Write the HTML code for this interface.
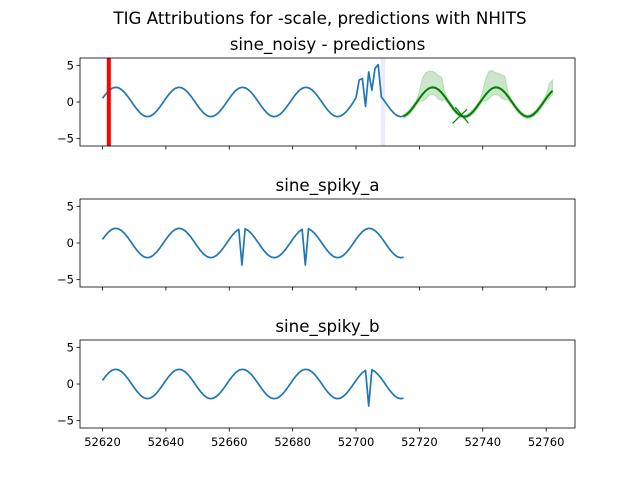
<!DOCTYPE html>
<html><head><meta charset="utf-8"><style>
body{margin:0;background:#fff;}
svg{display:block;font-family:"DejaVu Sans","Liberation Sans",sans-serif;}
</style></head><body>
<svg id="chart" width="640" height="480" viewBox="0 0 640 480">
<rect width="640" height="480" fill="#fff"/>
<text x="320" y="24" text-anchor="middle" font-size="16.7">TIG Attributions for -scale, predictions with NHITS</text>
</svg>
<script>
const startT = 52620;
const xTicks = [52620,52640,52660,52680,52700,52720,52740,52760];
const yTicks = [-5,0,5];
const titles = ["sine_noisy - predictions","sine_spiky_a","sine_spiky_b"];
const sineNoisy = [0.49,1.07,1.54,1.86,2.00,1.94,1.69,1.28,0.74,0.13,-0.49,-1.07,-1.54,-1.86,-2.00,-1.94,-1.69,-1.28,-0.74,-0.13,
0.49,1.07,1.54,1.86,2.00,1.94,1.69,1.28,0.74,0.13,-0.49,-1.07,-1.54,-1.86,-2.00,-1.94,-1.69,-1.28,-0.74,-0.13,
0.49,1.07,1.54,1.86,2.00,1.94,1.69,1.28,0.74,0.13,-0.49,-1.07,-1.54,-1.86,-2.00,-1.94,-1.69,-1.28,-0.74,-0.13,
0.49,1.07,1.54,1.86,2.00,1.94,1.69,1.28,0.74,0.13,-0.49,-1.07,-1.54,-1.86,-2.00,-1.94,-1.69,-1.28,-0.74,-0.13,
0.6,3.0,3.2,-0.6,4.1,1.6,4.6,5.1,0.7,0.13,-0.49,-1.07,-1.54,-1.86,-2.00,-1.94];
const sineSpikyA = [0.49,1.07,1.54,1.86,2.00,1.94,1.69,1.28,0.74,0.13,-0.49,-1.07,-1.54,-1.86,-2.00,-1.94,-1.69,-1.28,-0.74,-0.13,
0.49,1.07,1.54,1.86,2.00,1.94,1.69,1.28,0.74,0.13,-0.49,-1.07,-1.54,-1.86,-2.00,-1.94,-1.69,-1.28,-0.74,-0.13,
0.49,1.07,1.54,1.86,-3.0,1.94,1.69,1.28,0.74,0.13,-0.49,-1.07,-1.54,-1.86,-2.00,-1.94,-1.69,-1.28,-0.74,-0.13,
0.49,1.07,1.54,1.86,-3.0,1.94,1.69,1.28,0.74,0.13,-0.49,-1.07,-1.54,-1.86,-2.00,-1.94,-1.69,-1.28,-0.74,-0.13,
0.49,1.07,1.54,1.86,2.00,1.94,1.69,1.28,0.74,0.13,-0.49,-1.07,-1.54,-1.86,-2.00,-1.94];
const sineSpikyB = [0.49,1.07,1.54,1.86,2.00,1.94,1.69,1.28,0.74,0.13,-0.49,-1.07,-1.54,-1.86,-2.00,-1.94,-1.69,-1.28,-0.74,-0.13,
0.49,1.07,1.54,1.86,2.00,1.94,1.69,1.28,0.74,0.13,-0.49,-1.07,-1.54,-1.86,-2.00,-1.94,-1.69,-1.28,-0.74,-0.13,
0.49,1.07,1.54,1.86,2.00,1.94,1.69,1.28,0.74,0.13,-0.49,-1.07,-1.54,-1.86,-2.00,-1.94,-1.69,-1.28,-0.74,-0.13,
0.49,1.07,1.54,1.86,2.00,1.94,1.69,1.28,0.74,0.13,-0.49,-1.07,-1.54,-1.86,-2.00,-1.94,-1.69,-1.28,-0.74,-0.13,
0.49,1.07,1.54,1.86,-3.0,1.94,1.69,1.28,0.74,0.13,-0.49,-1.07,-1.54,-1.86,-2.00,-1.94];
const predStart = 52715;
const predMean = [-1.94,-1.69,-1.28,-0.74,-0.13,0.49,1.07,1.54,1.86,2.00,1.94,1.69,1.28,0.74,0.13,-0.49,-1.07,-1.54,-1.86,-2.00,-1.94,-1.69,-1.28,-0.74,-0.13,0.49,1.07,1.54,1.86,2.00,1.94,1.69,1.28,0.74,0.13,-0.49,-1.07,-1.54,-1.86,-2.00,-1.94,-1.69,-1.28,-0.74,-0.13,0.49,1.07,1.54];
const predUpper = [-1.7,-1.4,-1.0,-0.4,0.2,1.5,3.3,4.0,4.2,4.2,4.0,3.6,3.4,1.3,0.4,-0.2,-0.8,-1.3,-1.6,-1.8,-1.7,-1.4,-1.0,-0.4,0.2,1.5,3.3,4.2,4.3,4.0,3.9,3.7,3.5,1.2,0.4,-0.2,-0.8,-1.3,-1.6,-1.8,-1.7,-1.4,-1.0,-0.4,0.2,1.0,2.5,3.0];
const predLower = [-2.2,-2.0,-1.6,-1.1,-0.5,0.1,0.1,0.4,0.9,1.0,0.9,0.4,0.2,0.3,-0.2,-0.8,-1.4,-1.8,-2.1,-2.3,-2.2,-2.0,-1.6,-1.1,-0.5,0.1,0.1,0.5,0.9,1.0,0.9,0.5,0.3,0.3,-0.2,-0.8,-1.4,-1.8,-2.1,-2.3,-2.2,-2.0,-1.6,-1.1,-0.5,0.1,0.5,1.0];
const redLineT = 52622;
const bandT = [52707.8,52709.2];
const crossT = [52730.5,52735];
const crossV = [-1.0,-2.9];

const svg = document.getElementById('chart');
const NS = 'http://www.w3.org/2000/svg';
const L = 80, R = 575, tMin = 52612.9, tMax = 52769.1;
const tops = [58,199,340], H = 88;
function X(t){ return L + (t - tMin) * (R - L) / (tMax - tMin); }
function Y(k, v){ return tops[k] + (6 - v) * H / 12; }
function mk(tag, attrs){ const e = document.createElementNS(NS, tag); for (const a in attrs) e.setAttribute(a, attrs[a]); svg.appendChild(e); return e; }
function pts(k, t0, arr){ return arr.map((v,i)=>X(t0+i).toFixed(2)+','+Y(k,v).toFixed(2)).join(' '); }

const seriesList = [sineNoisy, sineSpikyA, sineSpikyB];
const names = ['noisy','spiky-a','spiky-b'];
for (let k = 0; k < 3; k++) {
  const t = mk('text', {x:(L+R)/2, y:tops[k]-8, 'text-anchor':'middle', 'font-size':'16.7'});
  t.textContent = titles[k];
  
  
  if (k === 0) {
    const b = mk('rect', {x:X(bandT[0]), y:tops[0], width:X(bandT[1])-X(bandT[0]), height:H, fill:'#0000ff', 'fill-opacity':0.08});
    
    
  }
  const line = mk('polyline', {points:pts(k, startT, seriesList[k]), fill:'none', stroke:'#1f77b4', 'stroke-width':1.7, 'stroke-linejoin':'round'});
  
  
  if (k === 0) {
    const up = predUpper.map((v,i)=>X(predStart+i).toFixed(2)+','+Y(0,v).toFixed(2));
    const lo = predLower.map((v,i)=>X(predStart+i).toFixed(2)+','+Y(0,v).toFixed(2)).reverse();
    const band = mk('polygon', {points:up.concat(lo).join(' '), fill:'#008000', 'fill-opacity':0.2, stroke:'#008000', 'stroke-opacity':0.2});
    
    
    const pl = mk('polyline', {points:pts(0, predStart, predMean), fill:'none', stroke:'#008000', 'stroke-width':2});
    
    
    const c1 = mk('line', {x1:X(crossT[0]), y1:Y(0,crossV[1]), x2:X(crossT[1]), y2:Y(0,crossV[0]), stroke:'#008000', 'stroke-width':1.2});
    
    
    const c2 = mk('line', {x1:X(crossT[0]+0.8), y1:Y(0,crossV[0]+0.3), x2:X(crossT[1]+0.5), y2:Y(0,crossV[1]), stroke:'#008000', 'stroke-width':1.2});
    
    
    const red = mk('line', {x1:X(redLineT), y1:tops[0], x2:X(redLineT), y2:tops[0]+H, stroke:'#ff0000', 'stroke-width':4});
    
    
  }
  const frame = mk('rect', {x:L, y:tops[k], width:R-L, height:H, fill:'none', stroke:'#000', 'stroke-width':0.8});
  
  
  for (const v of yTicks) {
    const tk = mk('line', {x1:L-3.5, y1:Y(k,v), x2:L, y2:Y(k,v), stroke:'#000', 'stroke-width':0.8});
    
    
    const lb = mk('text', {x:L-6, y:Y(k,v)+4, 'text-anchor':'end', 'font-size':'11.5'});
    lb.textContent = v < 0 ? '\u2212' + Math.abs(v) : String(v);
    
    
  }
  for (const t0 of xTicks) {
    const tk = mk('line', {x1:X(t0), y1:tops[k]+H, x2:X(t0), y2:tops[k]+H+3.5, stroke:'#000', 'stroke-width':0.8});
    
    
    if (k === 2) {
      const lb = mk('text', {x:X(t0), y:tops[k]+H+18, 'text-anchor':'middle', 'font-size':'11.5'});
      lb.textContent = String(t0);
      
      
    }
  }
}
</script>
</body></html>
